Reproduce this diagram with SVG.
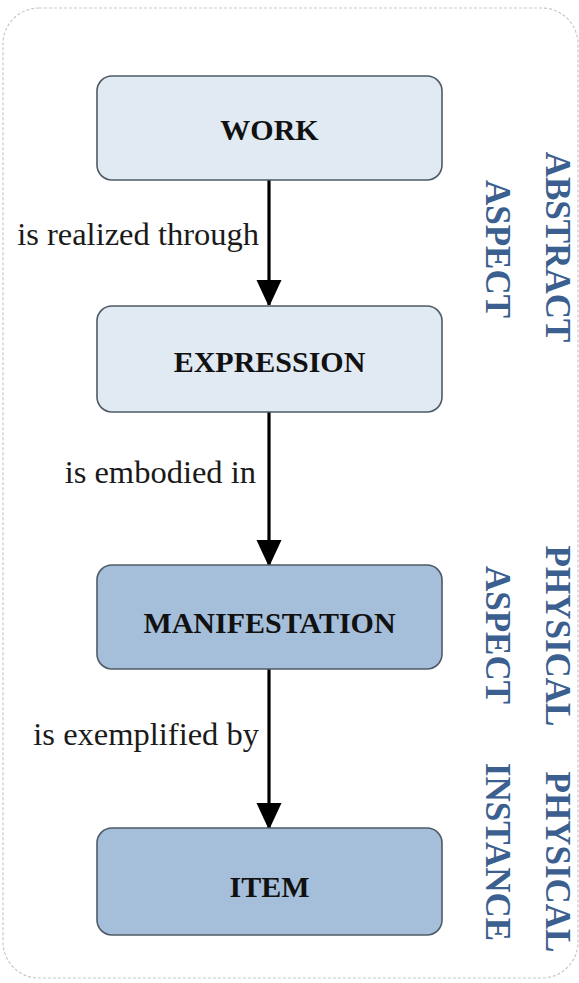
<svg xmlns="http://www.w3.org/2000/svg" width="579" height="983" viewBox="0 0 579 983">
  <defs>
    <marker id="arrowhead" viewBox="0 0 25 27" refX="25" refY="12.5" markerWidth="25" markerHeight="27" markerUnits="userSpaceOnUse" orient="auto">
      <path d="M0,0 L27,12.5 L0,25 Z" fill="#000"/>
    </marker>
    <style>
      .frame { fill: #fff; stroke: #c8c8c8; stroke-width: 1.2; stroke-dasharray: 3 2; }
      .box { stroke: #4f5a66; stroke-width: 1.6; }
      .light { fill: #e1e9f3; }
      .dark { fill: #a5bfdb; }
      .label { font-family: "Liberation Serif", "Times New Roman", serif; font-weight: bold; font-size: 30px; fill: #111; text-anchor: middle; }
      .edge { stroke: #000; stroke-width: 3.2; fill: none; }
      .edge-label { font-family: "Liberation Serif", "Times New Roman", serif; font-size: 32.5px; fill: #1a1a1a; text-anchor: end; }
      .aspect { font-family: "Liberation Serif", "Times New Roman", serif; font-weight: bold; font-size: 35px; fill: #3b5f8e; text-anchor: middle; }
    </style>
  </defs>

  <rect width="579" height="983" fill="#fff"/>
  <rect class="frame" x="3" y="8" width="575" height="970" rx="36" ry="36"/>

  <!-- connectors -->
  <g id="connectors">
    <line class="edge" x1="269" y1="180" x2="269" y2="305" marker-end="url(#arrowhead)"/>
    <line class="edge" x1="269" y1="412" x2="269" y2="565" marker-end="url(#arrowhead)"/>
    <line class="edge" x1="269" y1="669" x2="269" y2="828" marker-end="url(#arrowhead)"/>
    <text class="edge-label" x="259" y="245">is realized through</text>
    <text class="edge-label" x="256" y="483">is embodied in</text>
    <text class="edge-label" x="259" y="745">is exemplified by</text>
  </g>

  <!-- entities -->
  <g id="work">
    <rect class="box light" x="97" y="76" width="345" height="104" rx="15" ry="15"/>
    <text class="label" x="269.5" y="140">WORK</text>
  </g>
  <g id="expression">
    <rect class="box light" x="97" y="306" width="345" height="106" rx="15" ry="15"/>
    <text class="label" x="269.5" y="372">EXPRESSION</text>
  </g>
  <g id="manifestation">
    <rect class="box dark" x="97" y="565" width="345" height="104" rx="15" ry="15"/>
    <text class="label" x="269.5" y="633">MANIFESTATION</text>
  </g>
  <g id="item">
    <rect class="box dark" x="97" y="828" width="345" height="107" rx="15" ry="15"/>
    <text class="label" x="269.5" y="897">ITEM</text>
  </g>

  <!-- side captions, rotated to read top to bottom -->
  <g id="abstract-aspect">
    <text class="aspect" transform="translate(546,247) rotate(90)">ABSTRACT</text>
    <text class="aspect" transform="translate(486,249) rotate(90)">ASPECT</text>
  </g>
  <g id="physical-aspect">
    <text class="aspect" transform="translate(546,636) rotate(90)">PHYSICAL</text>
    <text class="aspect" transform="translate(486,635) rotate(90)">ASPECT</text>
  </g>
  <g id="physical-instance">
    <text class="aspect" transform="translate(546,862) rotate(90)">PHYSICAL</text>
    <text class="aspect" transform="translate(486,852) rotate(90)">INSTANCE</text>
  </g>
</svg>
